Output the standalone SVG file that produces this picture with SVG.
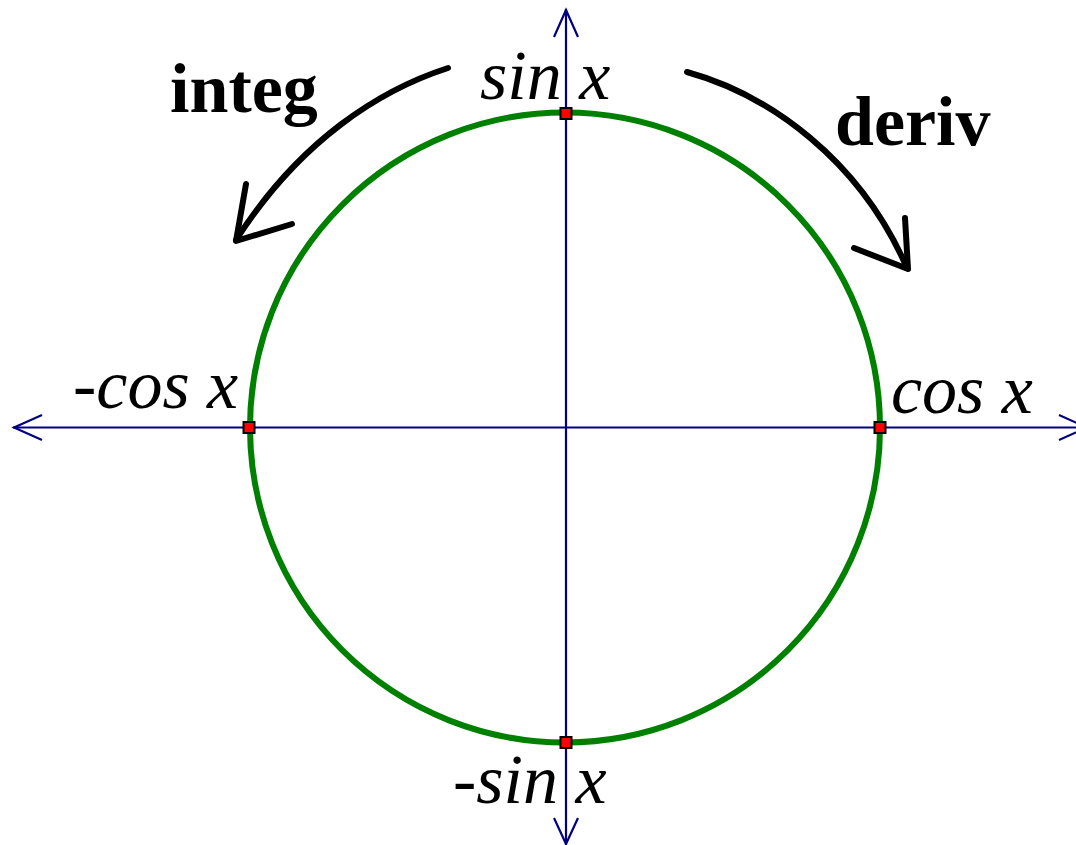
<svg xmlns="http://www.w3.org/2000/svg" width="1076" height="845" viewBox="0 0 1076 845">
<style>
.axis{stroke:#000080;stroke-width:2.2;fill:none}
.arr{stroke:#000;stroke-width:6;fill:none;stroke-linecap:round;stroke-linejoin:round}
.pt{fill:#ff0000;stroke:#000;stroke-width:2}
</style>
<rect width="1076" height="845" fill="#fff"/>
<g id="axes">
<line class="axis" x1="13" y1="427.5" x2="1090" y2="427.5"/>
<polyline class="axis" points="42,415 14,427.5 42,440"/>
<polyline class="axis" points="1059,415 1087,427.5 1059,440"/>
<line class="axis" x1="566" y1="9" x2="566" y2="845"/>
<polyline class="axis" points="554,37 566,10 578,37"/>
<polyline class="axis" points="554,818 566,844 578,818"/>
</g>
<g id="circle">
<circle cx="565" cy="427.5" r="315" fill="none" stroke="#008000" stroke-width="6"/>
</g>
<g id="connectors">
<path class="arr" d="M448,68 C380,90 300,140 236,240"/>
<polyline class="arr" points="246,184 236,241 292,224"/>
<path class="arr" d="M687,72 C770,95 860,160 907,268"/>
<polyline class="arr" points="905,218 908,269 854,248"/>
</g>
<g id="points">
<rect class="pt" x="560.5" y="108" width="11" height="11"/>
<rect class="pt" x="560.5" y="737" width="11" height="11"/>
<rect class="pt" x="243.5" y="422" width="11" height="11"/>
<rect class="pt" x="874.5" y="422" width="11" height="11"/>
</g>
<g id="labels" font-family="Liberation Serif" font-size="70" fill="#000">
<text font-style="italic" x="480" y="99">sin x</text>
<text font-style="italic" x="891" y="413">cos x</text>
<text font-style="italic" x="73" y="408">-cos x</text>
<text font-style="italic" x="453" y="803">-sin x</text>
<text font-weight="bold" x="170" y="112">integ</text>
<text font-weight="bold" x="835" y="145">deriv</text>
</g>
</svg>
